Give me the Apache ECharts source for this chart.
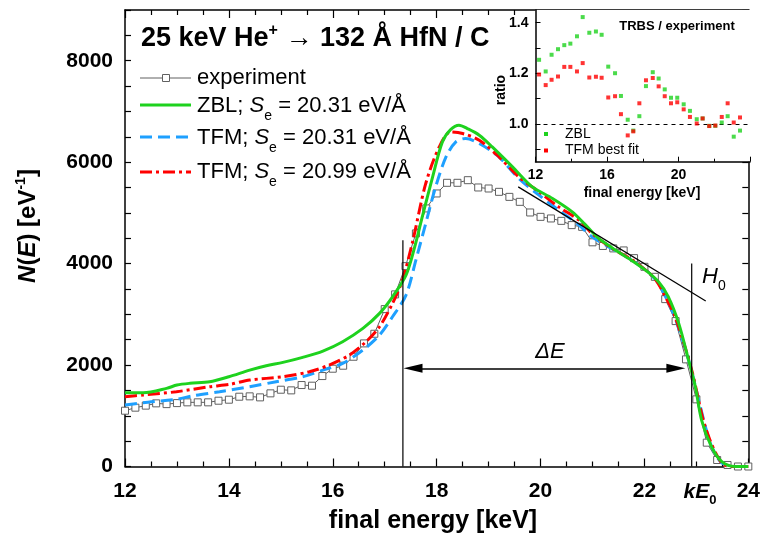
<!DOCTYPE html>
<html><head><meta charset="utf-8">
<script src="https://cdn.jsdelivr.net/npm/echarts@6/dist/echarts.min.js"></script>
<style>html,body{margin:0;padding:0;background:#fff}#c{width:763px;height:544px}</style>
</head><body><div id="c"></div>
<script>
// ---------- data ----------
const xTicks = [12, 14, 16, 18, 20, 22, 24];
const yTicks = [0, 2000, 4000, 6000, 8000];

const expE = [12.0,12.2,12.4,12.6,12.8,13.0,13.2,13.4,13.6,13.8,14.0,14.2,14.4,14.6,14.8,15.0,15.2,15.4,15.6,15.8,
  16.0,16.2,16.4,16.6,16.8,17.0,17.2,17.4,17.6,17.8,18.0,18.2,18.4,18.6,18.8,19.0,19.2,19.4,19.6,19.8,
  20.0,20.2,20.4,20.6,20.8,21.0,21.2,21.4,21.6,21.8,22.0,22.2,22.4,22.6,22.8,23.0,23.2,23.4,23.6,23.8,24.0];
const expN = [1100,1160,1200,1245,1230,1250,1265,1265,1265,1297,1317,1376,1383,1363,1442,1514,1501,1606,1593,1783,
  1928,1987,2164,2427,2617,3103,3393,3950,4595,5088,5383,5593,5593,5645,5501,5481,5415,5316,5218,5008,
  4922,4890,4843,4759,4725,4420,4348,4300,4260,4108,3937,3740,3300,2867,2112,1324,470,128,30,0,0];

const zblE = [12.0,12.35,12.8,13.0,13.25,13.63,14.0,14.4,14.72,15.04,15.42,15.81,16.19,16.58,16.9,17.15,17.41,17.57,17.73,17.92,
  18.11,18.27,18.43,18.59,18.82,19.07,19.46,19.84,20.23,20.61,20.87,21.12,21.38,21.7,22.02,22.27,22.46,22.66,22.85,22.98,
  23.1,23.29,23.49,23.74,24.0];
const zblN = [1455,1455,1540,1606,1640,1671,1770,1900,1987,2053,2152,2276,2460,2722,3019,3346,3773,4300,4950,5700,
  6400,6644,6730,6663,6532,6301,5907,5513,5285,5021,4759,4496,4310,4100,3872,3641,3346,2822,2099,1572,
  916,390,95,0,0];

const tfm1E = [12.0,12.35,12.99,13.31,13.82,14.4,14.91,15.42,15.81,16.19,16.58,16.9,17.15,17.41,17.6,17.79,17.98,18.18,18.37,18.56,
  18.82,19.2,19.58,19.97,20.35,20.74,20.99,21.38,21.8,22.2,22.4,22.6,22.85,23.0,23.17,23.3,23.49,23.75,24.0];
const tfm1N = [1212,1257,1324,1395,1474,1573,1671,1770,1901,2033,2296,2591,2952,3380,4069,4792,5513,6104,6400,6467,
  6368,6104,5678,5349,5054,4759,4529,4290,4040,3700,3360,2900,2100,1500,800,380,70,0,0];

const tfm2E = [12.0,12.35,12.99,13.63,14.02,14.4,15.04,15.55,15.93,16.32,16.64,16.9,17.15,17.34,17.53,17.79,18.05,18.27,18.5,18.82,
  19.2,19.58,19.97,20.35,20.74,20.99,21.38,21.8,22.2,22.4,22.59,22.91,23.17,23.49,23.75,24.0];
const tfm2N = [1376,1409,1474,1573,1620,1704,1770,1868,2000,2197,2460,2755,3216,3675,4400,5580,6301,6597,6565,6433,
  6104,5710,5415,5119,4857,4595,4300,4050,3700,3350,2952,1901,784,63,0,0];

const tangentE = [19.57, 23.18];
const tangentN = [5513, 3261];
const edgeLowE = 17.35, edgeLowTop = 4463;
const kE0 = 22.91, kE0Top = 4004;
const arrowE = [17.545, 22.605];
const arrowN = 1935;

const ratioE = [12.2,12.57,12.9,13.26,13.61,13.95,14.32,14.64,15.01,15.38,15.7,16.07,16.45,16.78,17.16,17.47,17.81,18.18,18.56,18.89,
  19.23,19.58,19.93,20.29,20.64,21.02,21.35,21.72,22.06,22.42,22.75,23.09,23.44];
const ratioZBL = [1.253,1.207,1.273,1.295,1.311,1.317,1.346,1.422,1.360,1.365,1.352,1.226,1.200,1.110,1.016,0.973,1.030,1.149,1.204,1.179,
  1.136,1.103,1.103,1.077,1.051,1.018,1.021,0.992,0.992,1.005,1.030,0.949,0.973];
const ratioTFM = [1.195,1.153,1.174,1.187,1.225,1.225,1.207,1.240,1.183,1.186,1.182,1.104,1.109,1.038,0.954,0.970,1.081,1.172,1.181,1.148,
  1.109,1.081,1.085,1.057,1.027,1.001,1.021,0.991,0.993,1.027,1.081,1.005,1.025];
const ratioYLabels = [1.0, 1.2, 1.4];
const ratioYTicks = [0.9, 1.0, 1.1, 1.2, 1.3, 1.4];

// ---------- styling ----------
const FONT = '"Liberation Sans", Arial, sans-serif';
const GREEN = '#1ed21e', BLUE = '#1ea0ff', RED = '#ff0000', GRAY = '#606060';
const pairs = (a, b) => a.map((v, i) => [v, b[i]]);

const chart = echarts.init(document.getElementById('c'), null, {renderer: 'canvas'});

const axisLineStyle = {color: '#000', width: 1.5};
const mainX = (pos, show) => ({
  type: 'value', gridIndex: 0, position: pos, min: 12, max: 24, interval: 2,
  axisLine: {show: true, onZero: false, lineStyle: axisLineStyle},
  axisTick: {show: true, inside: true, length: 8, lineStyle: {color: '#000', width: 1.2}},
  minorTick: {show: true, splitNumber: 4, length: 5, lineStyle: {color: '#000', width: 1.2}},
  axisLabel: {show: show, margin: 14, fontFamily: FONT, fontWeight: 'bold', fontSize: 21, color: '#000',
    formatter: v => xTicks.includes(v) ? String(v) : ''},
  splitLine: {show: false}
});
const mainY = (pos, show) => ({
  type: 'value', gridIndex: 0, position: pos, min: 0, max: 9000, interval: 500,
  axisLine: {show: true, onZero: false, lineStyle: axisLineStyle},
  axisTick: {show: true, inside: true, length: 6, lineStyle: {color: '#000', width: 1.2}},
  axisLabel: {show: show, margin: 12, fontFamily: FONT, fontWeight: 'bold', fontSize: 21, color: '#000',
    formatter: v => yTicks.includes(v) ? String(v) : ''},
  splitLine: {show: false}
});

const option = {
  animation: false,
  backgroundColor: '#fff',
  grid: [
    {left: 125, right: 12, top: 10, bottom: 77.5, show: false},
    {left: 535.5, right: 13, top: 10, bottom: 382.3, show: true, backgroundColor: '#fff', borderWidth: 0, z: 5}
  ],
  xAxis: [
    mainX('bottom', true),
    mainX('top', false),
    {
      type: 'value', gridIndex: 1, position: 'bottom', min: 12, max: 24, interval: 4,
      axisLine: {show: true, onZero: false, lineStyle: {color: '#000', width: 1.5}},
      axisTick: {show: true, inside: true, length: 5, lineStyle: {color: '#000'}},
      minorTick: {show: true, splitNumber: 2, length: 3, lineStyle: {color: '#000'}},
      axisLabel: {margin: 6, fontFamily: FONT, fontWeight: 'bold', fontSize: 14, color: '#000',
        formatter: v => (v === 24 ? '' : String(v))},
      splitLine: {show: false}, z: 6
    }
  ],
  yAxis: [
    mainY('left', true),
    mainY('right', false),
    {
      type: 'value', gridIndex: 1, position: 'left', min: 0.85, max: 1.45,
      axisLine: {show: true, onZero: false, lineStyle: {color: '#000', width: 1.5}},
      axisTick: {show: true, inside: true, length: 5, customValues: ratioYTicks, lineStyle: {color: '#000'}},
      axisLabel: {margin: 7, fontFamily: FONT, fontWeight: 'bold', fontSize: 14, color: '#000',
        customValues: ratioYLabels, formatter: v => v.toFixed(1)},
      splitLine: {show: false}, z: 6
    }
  ],
  series: [
    {
      name: 'experiment', type: 'line', xAxisIndex: 0, yAxisIndex: 0, data: pairs(expE, expN),
      symbol: 'rect', symbolSize: 7, showAllSymbol: true,
      lineStyle: {color: GRAY, width: 1},
      itemStyle: {color: '#fff', borderColor: GRAY, borderWidth: 1}, z: 2
    },
    {
      name: 'TFM 20.31', type: 'line', xAxisIndex: 0, yAxisIndex: 0, data: pairs(tfm1E, tfm1N),
      symbol: 'none', smooth: 0.3, lineStyle: {color: BLUE, width: 3, type: [12, 6]}, z: 3
    },
    {
      name: 'TFM 20.99', type: 'line', xAxisIndex: 0, yAxisIndex: 0, data: pairs(tfm2E, tfm2N),
      symbol: 'none', smooth: 0.3, lineStyle: {color: RED, width: 3, type: [12, 4, 3, 4]}, z: 4
    },
    {
      name: 'ZBL', type: 'line', xAxisIndex: 0, yAxisIndex: 0, data: pairs(zblE, zblN),
      symbol: 'none', smooth: 0.3, lineStyle: {color: GREEN, width: 3}, z: 4
    },
    {
      name: 'tangent', type: 'line', xAxisIndex: 0, yAxisIndex: 0, data: pairs(tangentE, tangentN),
      symbol: 'none', lineStyle: {color: '#000', width: 1.2}, z: 5
    },
    {
      name: 'edgeLow', type: 'line', xAxisIndex: 0, yAxisIndex: 0, data: [[edgeLowE, 0], [edgeLowE, edgeLowTop]],
      symbol: 'none', lineStyle: {color: '#000', width: 1.2}, z: 5
    },
    {
      name: 'kE0', type: 'line', xAxisIndex: 0, yAxisIndex: 0, data: [[kE0, 0], [kE0, kE0Top]],
      symbol: 'none', lineStyle: {color: '#000', width: 1.2}, z: 5,
      markLine: {
        silent: true, symbol: ['triangle', 'triangle'], symbolSize: [9, 19],
        label: {show: false}, lineStyle: {color: '#000', width: 1.5, type: 'solid'},
        itemStyle: {color: '#000'},
        data: [[{coord: [arrowE[0], arrowN]}, {coord: [arrowE[1], arrowN]}]]
      }
    },
    {
      name: 'ZBL ratio', type: 'scatter', xAxisIndex: 2, yAxisIndex: 2, data: pairs(ratioE, ratioZBL),
      symbol: 'rect', symbolSize: 4, itemStyle: {color: GREEN}, z: 7,
      markLine: {
        silent: true, symbol: 'none', label: {show: false},
        lineStyle: {color: '#000', width: 1, type: [4, 4]},
        data: [{yAxis: 1.0}]
      }
    },
    {
      name: 'TFM ratio', type: 'scatter', xAxisIndex: 2, yAxisIndex: 2, data: pairs(ratioE, ratioTFM),
      symbol: 'rect', symbolSize: 4, itemStyle: {color: RED}, z: 7
    }
  ],
  graphic: [
    // title
    {type: 'text', x: 141, y: 39, z: 10, style: {
      text: '{b|25 keV He}{s|+}{b| \u2192 132 \u00C5 HfN / C}', verticalAlign: 'middle', fill: '#000',
      rich: {b: {fontFamily: FONT, fontWeight: 'bold', fontSize: 27, lineHeight: 32},
             s: {fontFamily: FONT, fontWeight: 'bold', fontSize: 16, lineHeight: 16, verticalAlign: 'top'}}}},
    // legend
    {type: 'line', z: 10, shape: {x1: 140, y1: 78, x2: 191, y2: 78}, style: {stroke: GRAY, lineWidth: 1}},
    {type: 'rect', z: 11, shape: {x: 162.5, y: 74.5, width: 7, height: 7}, style: {fill: '#fff', stroke: GRAY, lineWidth: 1}},
    {type: 'text', x: 197, y: 78, z: 10, style: {text: 'experiment', fontFamily: FONT, fontSize: 22, fill: '#000', verticalAlign: 'middle'}},
    {type: 'line', z: 10, shape: {x1: 140, y1: 105, x2: 191, y2: 105}, style: {stroke: GREEN, lineWidth: 3}},
    {type: 'line', z: 10, shape: {x1: 140, y1: 137, x2: 191, y2: 137}, style: {stroke: BLUE, lineWidth: 3, lineDash: [12, 6]}},
    {type: 'line', z: 10, shape: {x1: 140, y1: 172, x2: 191, y2: 172}, style: {stroke: RED, lineWidth: 3, lineDash: [12, 4, 3, 4]}},
    ...[['ZBL', 106], ['TFM', 138], ['TFM', 172]].map((r, i) => ({
      type: 'text', x: 197, y: r[1], z: 10, style: {
        text: '{t|' + r[0] + '; }{i|S}{sub|e}{t| = ' + (i === 2 ? '20.99' : '20.31') + ' eV/\u00C5}',
        verticalAlign: 'middle', fill: '#000',
        rich: {t: {fontFamily: FONT, fontSize: 22, lineHeight: 35},
               i: {fontFamily: FONT, fontSize: 22, fontStyle: 'italic', lineHeight: 35},
               sub: {fontFamily: FONT, fontSize: 14, lineHeight: 14, verticalAlign: 'bottom'}}}
    })),
    // axis titles
    {type: 'text', x: 433, y: 521, z: 10, style: {text: 'final energy [keV]', fontFamily: FONT, fontWeight: 'bold', fontSize: 25,
      fill: '#000', align: 'center', verticalAlign: 'middle'}},
    {type: 'text', x: 28, y: 226, rotation: Math.PI / 2, z: 10, style: {
      text: '{i|N}{b|(}{i|E}{b|) [eV}{s|-1}{b|]}', align: 'center', verticalAlign: 'middle', fill: '#000',
      rich: {b: {fontFamily: FONT, fontWeight: 'bold', fontSize: 24, lineHeight: 28},
             i: {fontFamily: FONT, fontWeight: 'bold', fontStyle: 'italic', fontSize: 24, lineHeight: 28},
             s: {fontFamily: FONT, fontWeight: 'bold', fontSize: 14, lineHeight: 14, verticalAlign: 'top'}}}},
    // kE0 tick label
    {type: 'text', x: 700, y: 492, z: 10, style: {
      text: '{i|kE}{s|0}', align: 'center', verticalAlign: 'middle', fill: '#000',
      rich: {i: {fontFamily: FONT, fontWeight: 'bold', fontStyle: 'italic', fontSize: 21, lineHeight: 30},
             s: {fontFamily: FONT, fontWeight: 'bold', fontSize: 13, lineHeight: 13, verticalAlign: 'bottom'}}}},
    // Delta E
    {type: 'text', x: 550, y: 352, z: 10, style: {
      text: '\u0394E', fontFamily: FONT, fontStyle: 'italic', fontSize: 22, fill: '#000', align: 'center', verticalAlign: 'middle'}},
    // H0
    {type: 'text', x: 702, y: 277, z: 10, style: {
      text: '{i|H}{s|0}', verticalAlign: 'middle', fill: '#000',
      rich: {i: {fontFamily: FONT, fontStyle: 'italic', fontSize: 22, lineHeight: 32},
             s: {fontFamily: FONT, fontSize: 14, lineHeight: 14, verticalAlign: 'bottom'}}}},
    // inset texts
    {type: 'text', x: 677, y: 26, z: 20, style: {text: 'TRBS / experiment', fontFamily: FONT, fontWeight: 'bold', fontSize: 13,
      fill: '#000', align: 'center', verticalAlign: 'middle'}},
    {type: 'text', x: 501.5, y: 90, rotation: Math.PI / 2, z: 20, style: {text: 'ratio', fontFamily: FONT, fontWeight: 'bold', fontSize: 14,
      fill: '#000', align: 'center', verticalAlign: 'middle'}},
    {type: 'text', x: 642, y: 193, z: 20, style: {text: 'final energy [keV]', fontFamily: FONT, fontWeight: 'bold', fontSize: 14,
      fill: '#000', align: 'center', verticalAlign: 'middle'}},
    {type: 'rect', z: 20, shape: {x: 544, y: 132, width: 4, height: 4}, style: {fill: GREEN}},
    {type: 'rect', z: 20, shape: {x: 544, y: 148.5, width: 4, height: 4}, style: {fill: RED}},
    {type: 'text', x: 565, y: 134, z: 20, style: {text: 'ZBL', fontFamily: FONT, fontSize: 14, fill: '#000', verticalAlign: 'middle'}},
    {type: 'text', x: 565, y: 150.5, z: 20, style: {text: 'TFM best fit', fontFamily: FONT, fontSize: 14, fill: '#000', verticalAlign: 'middle'}}
  ]
};
chart.setOption(option);
</script>
</body></html>
